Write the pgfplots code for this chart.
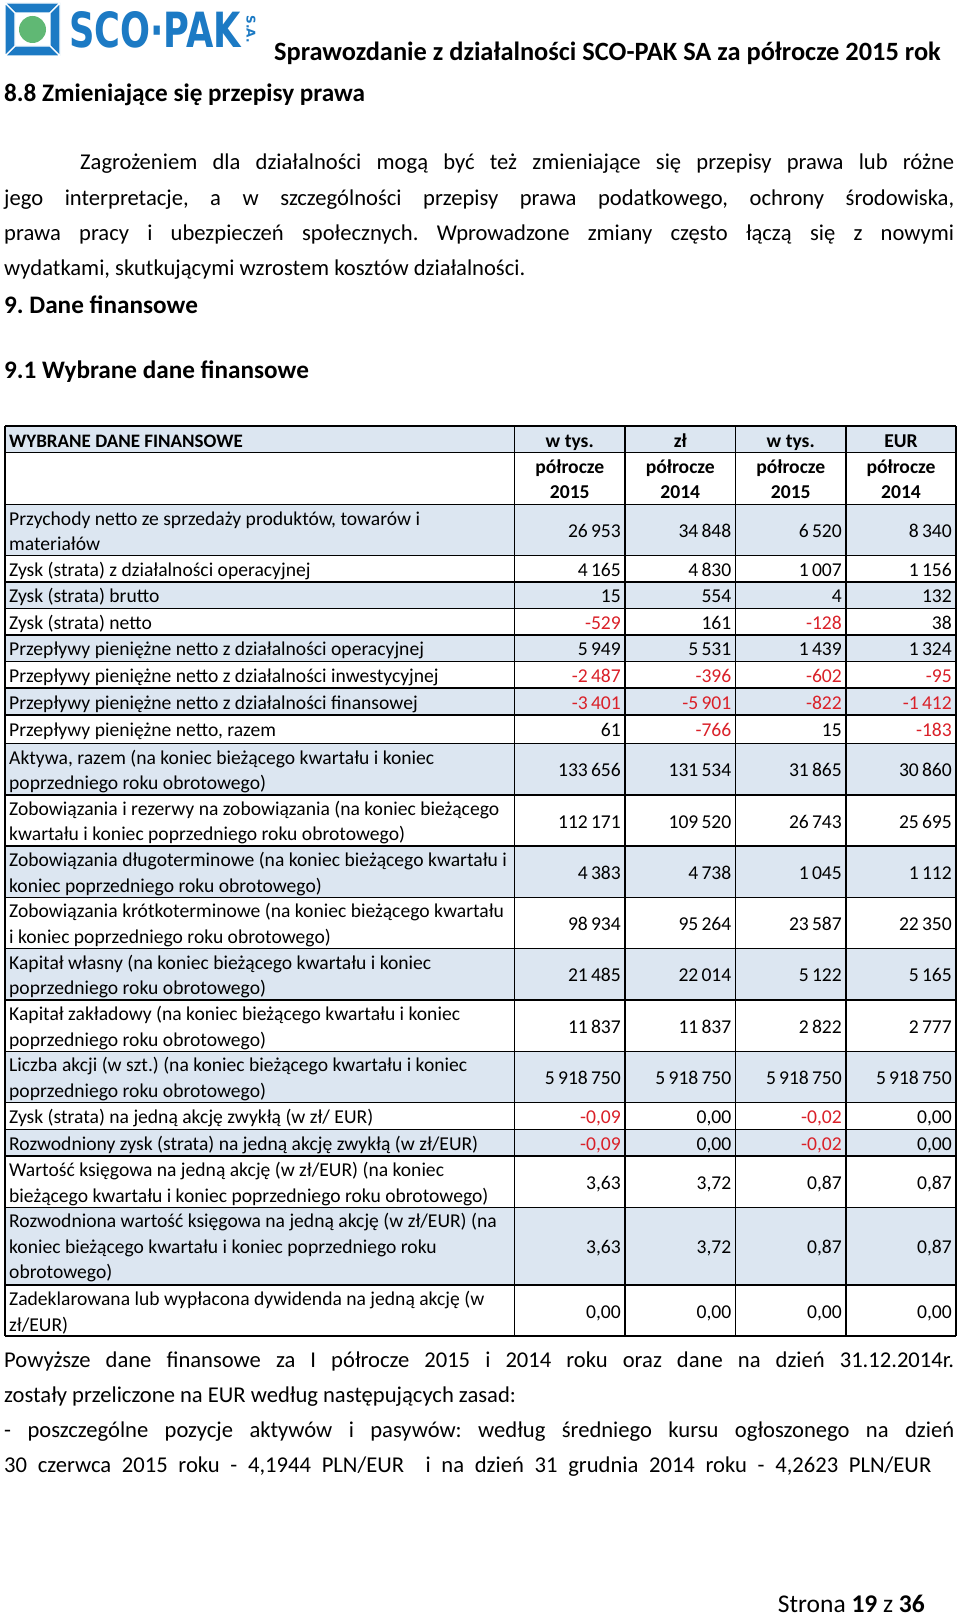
\documentclass[border=0pt]{standalone}
\usepackage{fontspec}
\setmainfont{Carlito}
\newfontfamily\logofont{DejaVu Sans}
\usepackage{graphicx}
\usepackage{pgfplots}
\pgfplotsset{compat=1.18}

\definecolor{rowblue}{RGB}{220,230,241}
\definecolor{negred}{RGB}{218,32,40}
\definecolor{logoblue}{RGB}{28,122,196}
\definecolor{logogreen}{RGB}{96,184,116}

% negative values in red, narrow thousands separator
\protected\def\ng#1{{\color{negred}#1}}
\protected\def\ts{\hspace{0.16em}}

\newcommand\tf{\fontsize{19.6}{24}\selectfont}
\newcommand\pf{\fontsize{22.6}{35}\selectfont}
\newcommand\hf{\fontsize{25.2}{28}\selectfont\bfseries}
% row label
\newcommand\lab[2]{\node[anchor=base west,inner sep=0pt,font=\tf] at (9,#1) {#2};}
\newcommand\colhead[3]{\node[anchor=base,inner sep=0pt,font=\tf\bfseries] at (#1,#2) {#3};}

\begin{document}
\frenchspacing
\begin{tikzpicture}
\begin{axis}[
    width=960pt, height=1616pt, scale only axis,
    xmin=0, xmax=960, ymin=0, ymax=1616, y dir=reverse,
    hide axis, clip=false,
    cell/.style={only marks, mark=*, mark size=0pt,
        mark options={draw=none,fill=none},
        point meta=explicit symbolic, nodes near coords,
        every node near coord/.append style={anchor=base east, inner sep=0pt, font=\tf}},
]
% page
\fill[white] (0,0) rectangle (960,1616);

% logo
\begin{scope}[draw=white, line width=1.2pt, fill=logoblue]
\filldraw (5,3) -- (60,3) -- (50,13) -- (15,13) -- cycle;
\filldraw (60,3) -- (60,56) -- (50,46) -- (50,13) -- cycle;
\filldraw (60,56) -- (5,56) -- (15,46) -- (50,46) -- cycle;
\filldraw (5,56) -- (5,3) -- (15,13) -- (15,46) -- cycle;
\end{scope}
\fill[logogreen] (32.5,29.5) circle[radius=13.5pt];
\node[anchor=north west, inner sep=0pt, text=logoblue] at (69,11)
    {\resizebox{172pt}{36pt}{\logofont\bfseries SCO·PAK}};
\node[rotate=-90, inner sep=0pt, text=logoblue, font=\logofont\bfseries\fontsize{12}{12}\selectfont] at (251,29) {S.A.};

% headings and text
\node[anchor=base east, inner sep=0pt, font=\fontsize{26.4}{30}\selectfont\bfseries] at (941,61) {Sprawozdanie z działalności SCO-PAK SA za półrocze 2015 rok};
\node[anchor=base west, inner sep=0pt, font=\hf] at (4,102) {8.8 Zmieniające się przepisy prawa};
\node[anchor=base west, inner sep=0pt, font=\pf] at (80,170) {\makebox[874pt][s]{Zagrożeniem dla działalności mogą być też zmieniające się przepisy prawa lub różne}};
\node[anchor=base west, inner sep=0pt, font=\pf] at (4,205) {\makebox[950pt][s]{jego interpretacje, a w szczególności przepisy prawa podatkowego, ochrony środowiska,}};
\node[anchor=base west, inner sep=0pt, font=\pf] at (4,240) {\makebox[950pt][s]{prawa pracy i ubezpieczeń społecznych. Wprowadzone zmiany często łączą się z nowymi}};
\node[anchor=base west, inner sep=0pt, font=\pf] at (4,275) {wydatkami, skutkującymi wzrostem kosztów działalności.};
\node[anchor=base west, inner sep=0pt, font=\hf] at (4,313) {9. Dane finansowe};
\node[anchor=base west, inner sep=0pt, font=\hf] at (4,378) {9.1 Wybrane dane finansowe};

% table fills
\fill[rowblue] (5,426) rectangle (956,452.5);
\fill[rowblue] (5,504.5) rectangle (956,555.5);
\fill[rowblue] (5,582) rectangle (956,608.5);
\fill[rowblue] (5,635) rectangle (956,661.5);
\fill[rowblue] (5,688) rectangle (956,715);
\fill[rowblue] (5,743.5) rectangle (956,794.8);
\fill[rowblue] (5,846.1) rectangle (956,897.4);
\fill[rowblue] (5,948.7) rectangle (956,1000);
\fill[rowblue] (5,1051.3) rectangle (956,1102.6);
\fill[rowblue] (5,1129.3) rectangle (956,1156);
\fill[rowblue] (5,1207.3) rectangle (956,1285);

% table grid
\pgfplotsinvokeforeach{426,452.5,504.5,555.5,582,608.5,635,661.5,688,715,743.5,794.8,846.1,897.4,948.7,1000,1051.3,1102.6,1129.3,1156,1207.3,1285,1336}{
    \draw[line width=1.4pt] (5,#1) -- (956,#1);
}
\pgfplotsinvokeforeach{5,514.5,625,735.5,846,956}{
    \draw[line width=1.4pt] (#1,426) -- (#1,1336);
}

% header cells
\node[anchor=base west,inner sep=0pt,font=\fontsize{19}{24}\selectfont\bfseries] at (9,447) {WYBRANE DANE FINANSOWE};
\colhead{569.75}{447}{w tys.}
\colhead{680.25}{447}{zł}
\colhead{790.75}{447}{w tys.}
\colhead{901}{447}{EUR}
\colhead{569.75}{473}{półrocze}
\colhead{680.25}{473}{półrocze}
\colhead{790.75}{473}{półrocze}
\colhead{901}{473}{półrocze}
\colhead{569.75}{498}{2015}
\colhead{680.25}{498}{2014}
\colhead{790.75}{498}{2015}
\colhead{901}{498}{2014}

% row labels
\lab{525}{Przychody netto ze sprzedaży produktów, towarów i}
\lab{550.5}{materiałów}
\lab{576.3}{Zysk (strata) z działalności operacyjnej}
\lab{602.8}{Zysk (strata) brutto}
\lab{629.3}{Zysk (strata) netto}
\lab{655.8}{Przepływy pieniężne netto z działalności operacyjnej}
\lab{682.3}{Przepływy pieniężne netto z działalności inwestycyjnej}
\lab{709}{Przepływy pieniężne netto z działalności finansowej}
\lab{736.8}{Przepływy pieniężne netto, razem}
\lab{764}{Aktywa, razem (na koniec bieżącego kwartału i koniec}
\lab{789.5}{poprzedniego roku obrotowego)}
\lab{815.3}{Zobowiązania i rezerwy na zobowiązania (na koniec bieżącego}
\lab{840.8}{kwartału i koniec poprzedniego roku obrotowego)}
\lab{866.6}{Zobowiązania długoterminowe (na koniec bieżącego kwartału i}
\lab{892.1}{koniec poprzedniego roku obrotowego)}
\lab{917.9}{Zobowiązania krótkoterminowe (na koniec bieżącego kwartału}
\lab{943.4}{i koniec poprzedniego roku obrotowego)}
\lab{969.2}{Kapitał własny (na koniec bieżącego kwartału i koniec}
\lab{994.7}{poprzedniego roku obrotowego)}
\lab{1020.5}{Kapitał zakładowy (na koniec bieżącego kwartału i koniec}
\lab{1046}{poprzedniego roku obrotowego)}
\lab{1071.8}{Liczba akcji (w szt.) (na koniec bieżącego kwartału i koniec}
\lab{1097.3}{poprzedniego roku obrotowego)}
\lab{1123.5}{Zysk (strata) na jedną akcję zwykłą (w zł/ EUR)}
\lab{1150.2}{Rozwodniony zysk (strata) na jedną akcję zwykłą (w zł/EUR)}
\lab{1176.5}{Wartość księgowa na jedną akcję (w zł/EUR) (na koniec}
\lab{1202}{bieżącego kwartału i koniec poprzedniego roku obrotowego)}
\lab{1227.8}{Rozwodniona wartość księgowa na jedną akcję (w zł/EUR) (na}
\lab{1253.3}{koniec bieżącego kwartału i koniec poprzedniego roku}
\lab{1278.8}{obrotowego)}
\lab{1305.5}{Zadeklarowana lub wypłacona dywidenda na jedną akcję (w}
\lab{1331}{zł/EUR)}

% values: w tys. zł, półrocze 2015
\addplot[cell] coordinates {
(621,537.5) [26\ts953] (621,576.3) [4\ts165] (621,602.8) [15] (621,629.3) [\ng{-529}]
(621,655.8) [5\ts949] (621,682.3) [\ng{-2\ts487}] (621,709) [\ng{-3\ts401}] (621,736.8) [61]
(621,776.7) [133\ts656] (621,828) [112\ts171] (621,879.3) [4\ts383] (621,930.6) [98\ts934]
(621,981.9) [21\ts485] (621,1033.2) [11\ts837] (621,1084.5) [5\ts918\ts750]
(621,1123.5) [\ng{-0,09}] (621,1150.2) [\ng{-0,09}] (621,1189.2) [3,63] (621,1253.7) [3,63] (621,1318) [0,00]
};
% w tys. zł, półrocze 2014
\addplot[cell] coordinates {
(731.5,537.5) [34\ts848] (731.5,576.3) [4\ts830] (731.5,602.8) [554] (731.5,629.3) [161]
(731.5,655.8) [5\ts531] (731.5,682.3) [\ng{-396}] (731.5,709) [\ng{-5\ts901}] (731.5,736.8) [\ng{-766}]
(731.5,776.7) [131\ts534] (731.5,828) [109\ts520] (731.5,879.3) [4\ts738] (731.5,930.6) [95\ts264]
(731.5,981.9) [22\ts014] (731.5,1033.2) [11\ts837] (731.5,1084.5) [5\ts918\ts750]
(731.5,1123.5) [0,00] (731.5,1150.2) [0,00] (731.5,1189.2) [3,72] (731.5,1253.7) [3,72] (731.5,1318) [0,00]
};
% w tys. EUR, półrocze 2015
\addplot[cell] coordinates {
(842,537.5) [6\ts520] (842,576.3) [1\ts007] (842,602.8) [4] (842,629.3) [\ng{-128}]
(842,655.8) [1\ts439] (842,682.3) [\ng{-602}] (842,709) [\ng{-822}] (842,736.8) [15]
(842,776.7) [31\ts865] (842,828) [26\ts743] (842,879.3) [1\ts045] (842,930.6) [23\ts587]
(842,981.9) [5\ts122] (842,1033.2) [2\ts822] (842,1084.5) [5\ts918\ts750]
(842,1123.5) [\ng{-0,02}] (842,1150.2) [\ng{-0,02}] (842,1189.2) [0,87] (842,1253.7) [0,87] (842,1318) [0,00]
};
% w tys. EUR, półrocze 2014
\addplot[cell] coordinates {
(952,537.5) [8\ts340] (952,576.3) [1\ts156] (952,602.8) [132] (952,629.3) [38]
(952,655.8) [1\ts324] (952,682.3) [\ng{-95}] (952,709) [\ng{-1\ts412}] (952,736.8) [\ng{-183}]
(952,776.7) [30\ts860] (952,828) [25\ts695] (952,879.3) [1\ts112] (952,930.6) [22\ts350]
(952,981.9) [5\ts165] (952,1033.2) [2\ts777] (952,1084.5) [5\ts918\ts750]
(952,1123.5) [0,00] (952,1150.2) [0,00] (952,1189.2) [0,87] (952,1253.7) [0,87] (952,1318) [0,00]
};

% notes below the table
\node[anchor=base west, inner sep=0pt, font=\pf] at (4,1367) {\makebox[950pt][s]{Powyższe dane finansowe za I półrocze 2015 i 2014 roku oraz dane na dzień 31.12.2014r.}};
\node[anchor=base west, inner sep=0pt, font=\pf] at (4,1402) {zostały przeliczone na EUR według następujących zasad:};
\node[anchor=base west, inner sep=0pt, font=\pf] at (4,1437) {\makebox[950pt][s]{- poszczególne pozycje aktywów i pasywów: według średniego kursu ogłoszonego na dzień}};
\node[anchor=base west, inner sep=0pt, font=\pf] at (4,1472) {\makebox[927pt][s]{30 czerwca 2015 roku - 4,1944 PLN/EUR\ \ i na dzień 31 grudnia 2014 roku - 4,2623 PLN/EUR}};

\node[anchor=base east, inner sep=0pt, font=\fontsize{25.5}{30}\selectfont] at (925,1612) {Strona \textbf{19} z \textbf{36}};
\end{axis}
\end{tikzpicture}
\end{document}
